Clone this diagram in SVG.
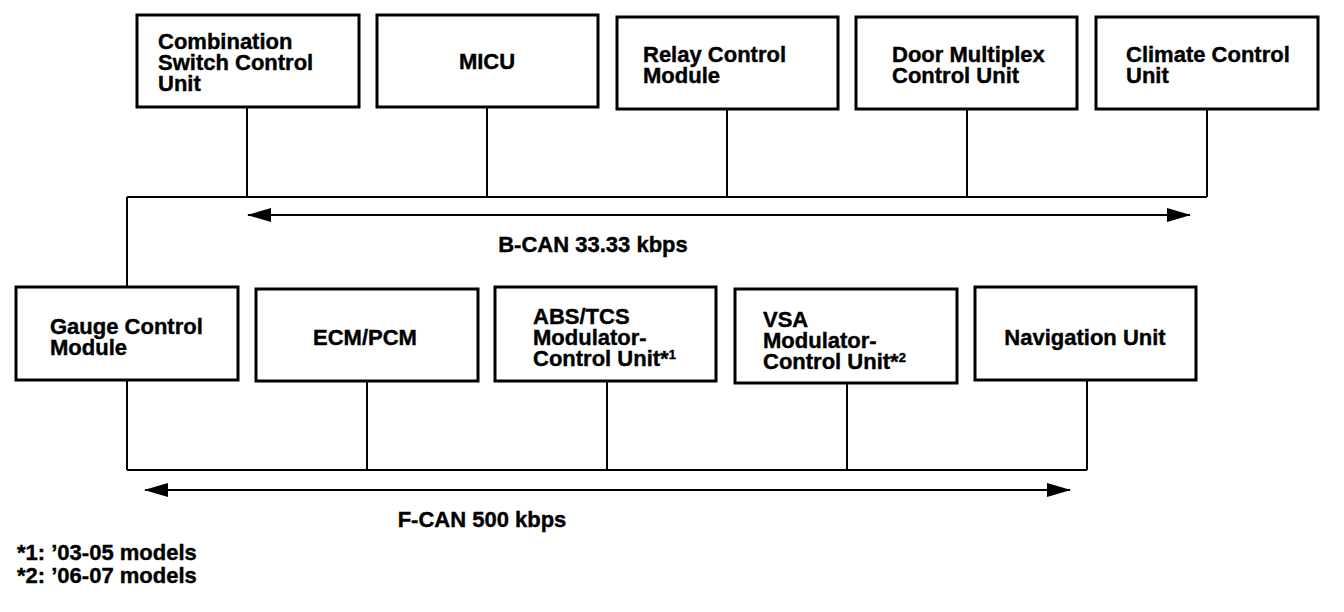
<svg xmlns="http://www.w3.org/2000/svg" width="1344" height="612" viewBox="0 0 1344 612">
<style>
.box{fill:#fff;stroke:#000;stroke-width:3}
.ln{fill:none;stroke:#000;stroke-width:2}
text{font-family:"Liberation Sans",Arial,sans-serif;font-weight:bold;font-size:22px;fill:#000;stroke:#000;stroke-width:0.4}
.c{text-anchor:middle}
</style>
<defs>
<marker id="ah" viewBox="0 0 24 14" refX="23" refY="7" markerWidth="24" markerHeight="14" markerUnits="userSpaceOnUse" orient="auto-start-reverse">
<path d="M0,0 L24,7 L0,14 Z" fill="#000"/>
</marker>
</defs>
<rect width="1344" height="612" fill="#fff"/>
<g id="connectors">
<path class="ln" d="M247,107 V197 M487,107 V197 M727,109 V197 M967,109 V197 M1207,109 V197 M127,197 H1207 M127,197 V287"/>
<path class="ln" d="M127,380 V470 M367,381 V470 M607,381 V470 M847,383 V470 M1087,380 V470 M127,470 H1087"/>
<line class="ln" x1="248" y1="215" x2="1190" y2="215" marker-start="url(#ah)" marker-end="url(#ah)"/>
<line class="ln" x1="145" y1="490" x2="1070" y2="490" marker-start="url(#ah)" marker-end="url(#ah)"/>
</g>
<g id="combination"><rect class="box" x="137" y="15" width="222" height="92"/><text x="158" y="49">Combination</text><text x="158" y="70">Switch Control</text><text x="158" y="91">Unit</text></g>
<g id="micu"><rect class="box" x="377" y="15" width="221" height="92"/><text class="c" x="487" y="69">MICU</text></g>
<g id="relay"><rect class="box" x="617" y="17" width="221" height="92"/><text x="643" y="62">Relay Control</text><text x="643" y="83">Module</text></g>
<g id="door"><rect class="box" x="856" y="17" width="221" height="92"/><text x="892" y="62">Door Multiplex</text><text x="892" y="83">Control Unit</text></g>
<g id="climate"><rect class="box" x="1096" y="17" width="222" height="92"/><text x="1126" y="62">Climate Control</text><text x="1126" y="83">Unit</text></g>
<g id="gauge"><rect class="box" x="16" y="287" width="222" height="93"/><text x="50" y="334">Gauge Control</text><text x="50" y="355">Module</text></g>
<g id="ecm"><rect class="box" x="256" y="289" width="222" height="92"/><text class="c" x="365" y="345">ECM/PCM</text></g>
<g id="abs"><rect class="box" x="495" y="287" width="221" height="94"/><text x="533" y="324">ABS/TCS</text><text x="533" y="345">Modulator-</text><text x="533" y="366">Control Unit*<tspan font-size="13" dy="-7">1</tspan></text></g>
<g id="vsa"><rect class="box" x="735" y="289" width="222" height="94"/><text x="763" y="327">VSA</text><text x="763" y="348">Modulator-</text><text x="763" y="369">Control Unit*<tspan font-size="13" dy="-7">2</tspan></text></g>
<g id="navigation"><rect class="box" x="975" y="287" width="221" height="93"/><text class="c" x="1085" y="345">Navigation Unit</text></g>
<g id="labels">
<text class="c" x="593" y="252">B-CAN 33.33 kbps</text>
<text class="c" x="482" y="527">F-CAN 500 kbps</text>
<text x="17" y="560">*1: ’03-05 models</text>
<text x="17" y="583">*2: ’06-07 models</text>
</g>
</svg>
